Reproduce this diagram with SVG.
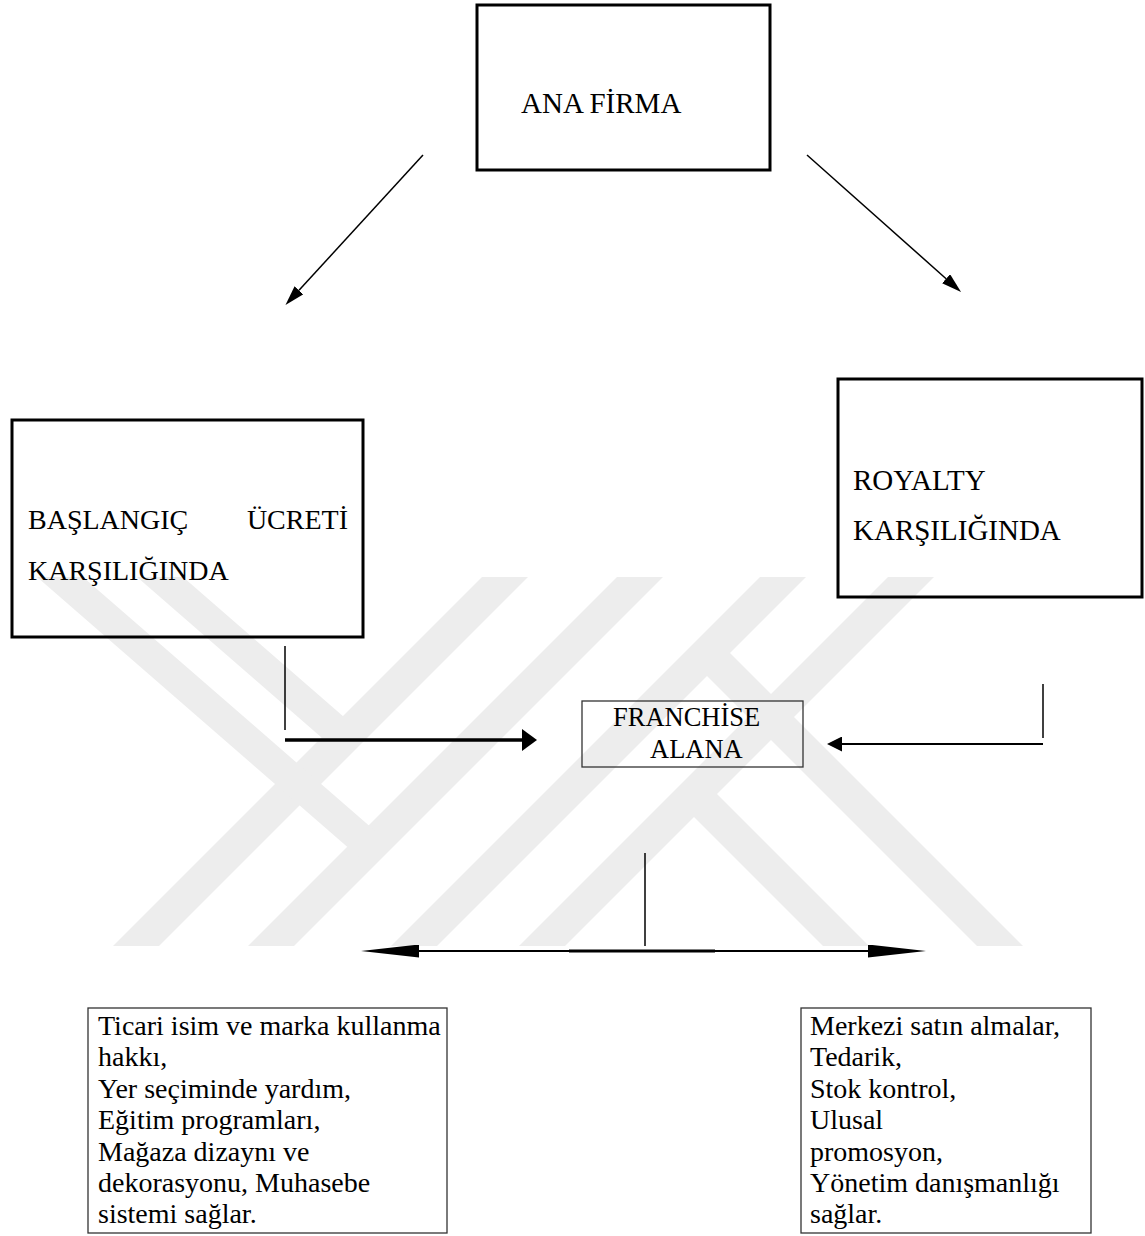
<svg xmlns="http://www.w3.org/2000/svg" width="1145" height="1236" viewBox="0 0 1145 1236">
<style>
  text { font-family: "Liberation Serif", "Times New Roman", serif; fill: #000; }
  .big { font-size: 29px; }
  .mid { font-size: 28px; }
  .fr { font-size: 26.5px; }
  .list { font-size: 28px; }
  .thick { fill: none; stroke: #000; stroke-width: 3; }
  .thin { fill: none; stroke: #333; stroke-width: 1.3; }
  .ln { stroke: #000; stroke-width: 1.5; fill: none; }
  .wm { fill: #ededed; stroke: none; }
</style>
<defs>
  <marker id="ah" markerUnits="userSpaceOnUse" viewBox="0 0 20 12" markerWidth="20" markerHeight="12" refX="0" refY="6" orient="auto">
    <path d="M0,0 L20,6 L0,12 z" fill="#000"/>
  </marker>
  <marker id="ahBold" markerUnits="userSpaceOnUse" viewBox="0 0 15 22" markerWidth="15" markerHeight="22" refX="0" refY="11" orient="auto">
    <path d="M0,0 L15,11 L0,22 z" fill="#000"/>
  </marker>
  <marker id="ahMed" markerUnits="userSpaceOnUse" viewBox="0 0 15 15" markerWidth="15" markerHeight="15" refX="0" refY="7.5" orient="auto">
    <path d="M0,0 L15,7.5 L0,15 z" fill="#000"/>
  </marker>
  <marker id="ahLong" markerUnits="userSpaceOnUse" viewBox="0 0 58 13" markerWidth="58" markerHeight="13" refX="0" refY="6.5" orient="auto-start-reverse">
    <path d="M0,0 L58,6.5 L0,13 z" fill="#000"/>
  </marker>
</defs>
<rect width="1145" height="1236" fill="#fff"/>

<g id="watermark">
  <polygon class="wm" points="482,577 528,577 159,946 113,946"/>
  <polygon class="wm" points="617,577 663,577 294,946 248,946"/>
  <polygon class="wm" points="760,577 806,577 437,946 391,946"/>
  <polygon class="wm" points="888,577 934,577 565,946 519,946"/>
  <polygon class="wm" points="37,577 83,577 381,836 359.5,857.5"/>
  <polygon class="wm" points="137,577 183,577 355.2,726.8 333.9,748.2"/>
  <polygon class="wm" points="823,946 869,946 705.5,782.5 682.5,805.5"/>
  <polygon class="wm" points="977,946 1023,946 718.5,641.5 695.5,664.5"/>
</g>

<g id="node-ana-firma">
  <rect class="thick" x="477" y="5" width="293" height="165"/>
  <text class="big" x="521" y="113">ANA FİRMA</text>
</g>

<g id="node-baslangic">
  <rect class="thick" x="12" y="420" width="351" height="217"/>
  <text class="mid" x="28" y="529">BAŞLANGIÇ</text>
  <text class="mid" x="348" y="529" text-anchor="end">ÜCRETİ</text>
  <text class="mid" x="28" y="580">KARŞILIĞINDA</text>
</g>

<g id="node-royalty">
  <rect class="thick" x="838" y="379" width="304" height="218"/>
  <text class="big" x="853" y="490">ROYALTY</text>
  <text class="big" x="853" y="540">KARŞILIĞINDA</text>
</g>

<g id="node-franchise">
  <rect class="thin" x="582" y="701" width="221" height="66"/>
  <text class="fr" x="613" y="726">FRANCHİSE</text>
  <text class="fr" x="650" y="758">ALANA</text>
</g>

<g id="node-left-list">
  <rect class="thin" x="88" y="1008" width="359" height="225"/>
  <text class="list" x="98" y="1035">Ticari isim ve marka kullanma</text>
  <text class="list" x="98" y="1066.4">hakkı,</text>
  <text class="list" x="98" y="1097.8">Yer seçiminde yardım,</text>
  <text class="list" x="98" y="1129.2">Eğitim programları,</text>
  <text class="list" x="98" y="1160.6">Mağaza dizaynı ve</text>
  <text class="list" x="98" y="1192">dekorasyonu, Muhasebe</text>
  <text class="list" x="98" y="1223.4">sistemi sağlar.</text>
</g>

<g id="node-right-list">
  <rect class="thin" x="801" y="1008" width="290" height="225"/>
  <text class="list" x="810" y="1035">Merkezi satın almalar,</text>
  <text class="list" x="810" y="1066.4">Tedarik,</text>
  <text class="list" x="810" y="1097.8">Stok kontrol,</text>
  <text class="list" x="810" y="1129.2">Ulusal</text>
  <text class="list" x="810" y="1160.6">promosyon,</text>
  <text class="list" x="810" y="1192">Yönetim danışmanlığı</text>
  <text class="list" x="810" y="1223.4">sağlar.</text>
</g>

<g id="connectors">
  <line class="ln" x1="423" y1="155" x2="299" y2="290.3" marker-end="url(#ah)"/>
  <line class="ln" x1="807" y1="155" x2="946.1" y2="278.7" marker-end="url(#ah)"/>

  <line class="ln" x1="285" y1="646" x2="285" y2="730"/>
  <line class="ln" x1="285" y1="740" x2="522" y2="740" style="stroke-width:3.5" marker-end="url(#ahBold)"/>

  <line class="ln" x1="1043" y1="684" x2="1043" y2="738"/>
  <line class="ln" x1="1043" y1="744" x2="842" y2="744" style="stroke-width:2" marker-end="url(#ahMed)"/>

  <line class="ln" x1="645" y1="853" x2="645" y2="946"/>
  <line class="ln" x1="419" y1="951" x2="868" y2="951" style="stroke-width:2" marker-start="url(#ahLong)" marker-end="url(#ahLong)"/>
  <line class="ln" x1="569" y1="951" x2="715" y2="951" style="stroke-width:3"/>
</g>
</svg>
